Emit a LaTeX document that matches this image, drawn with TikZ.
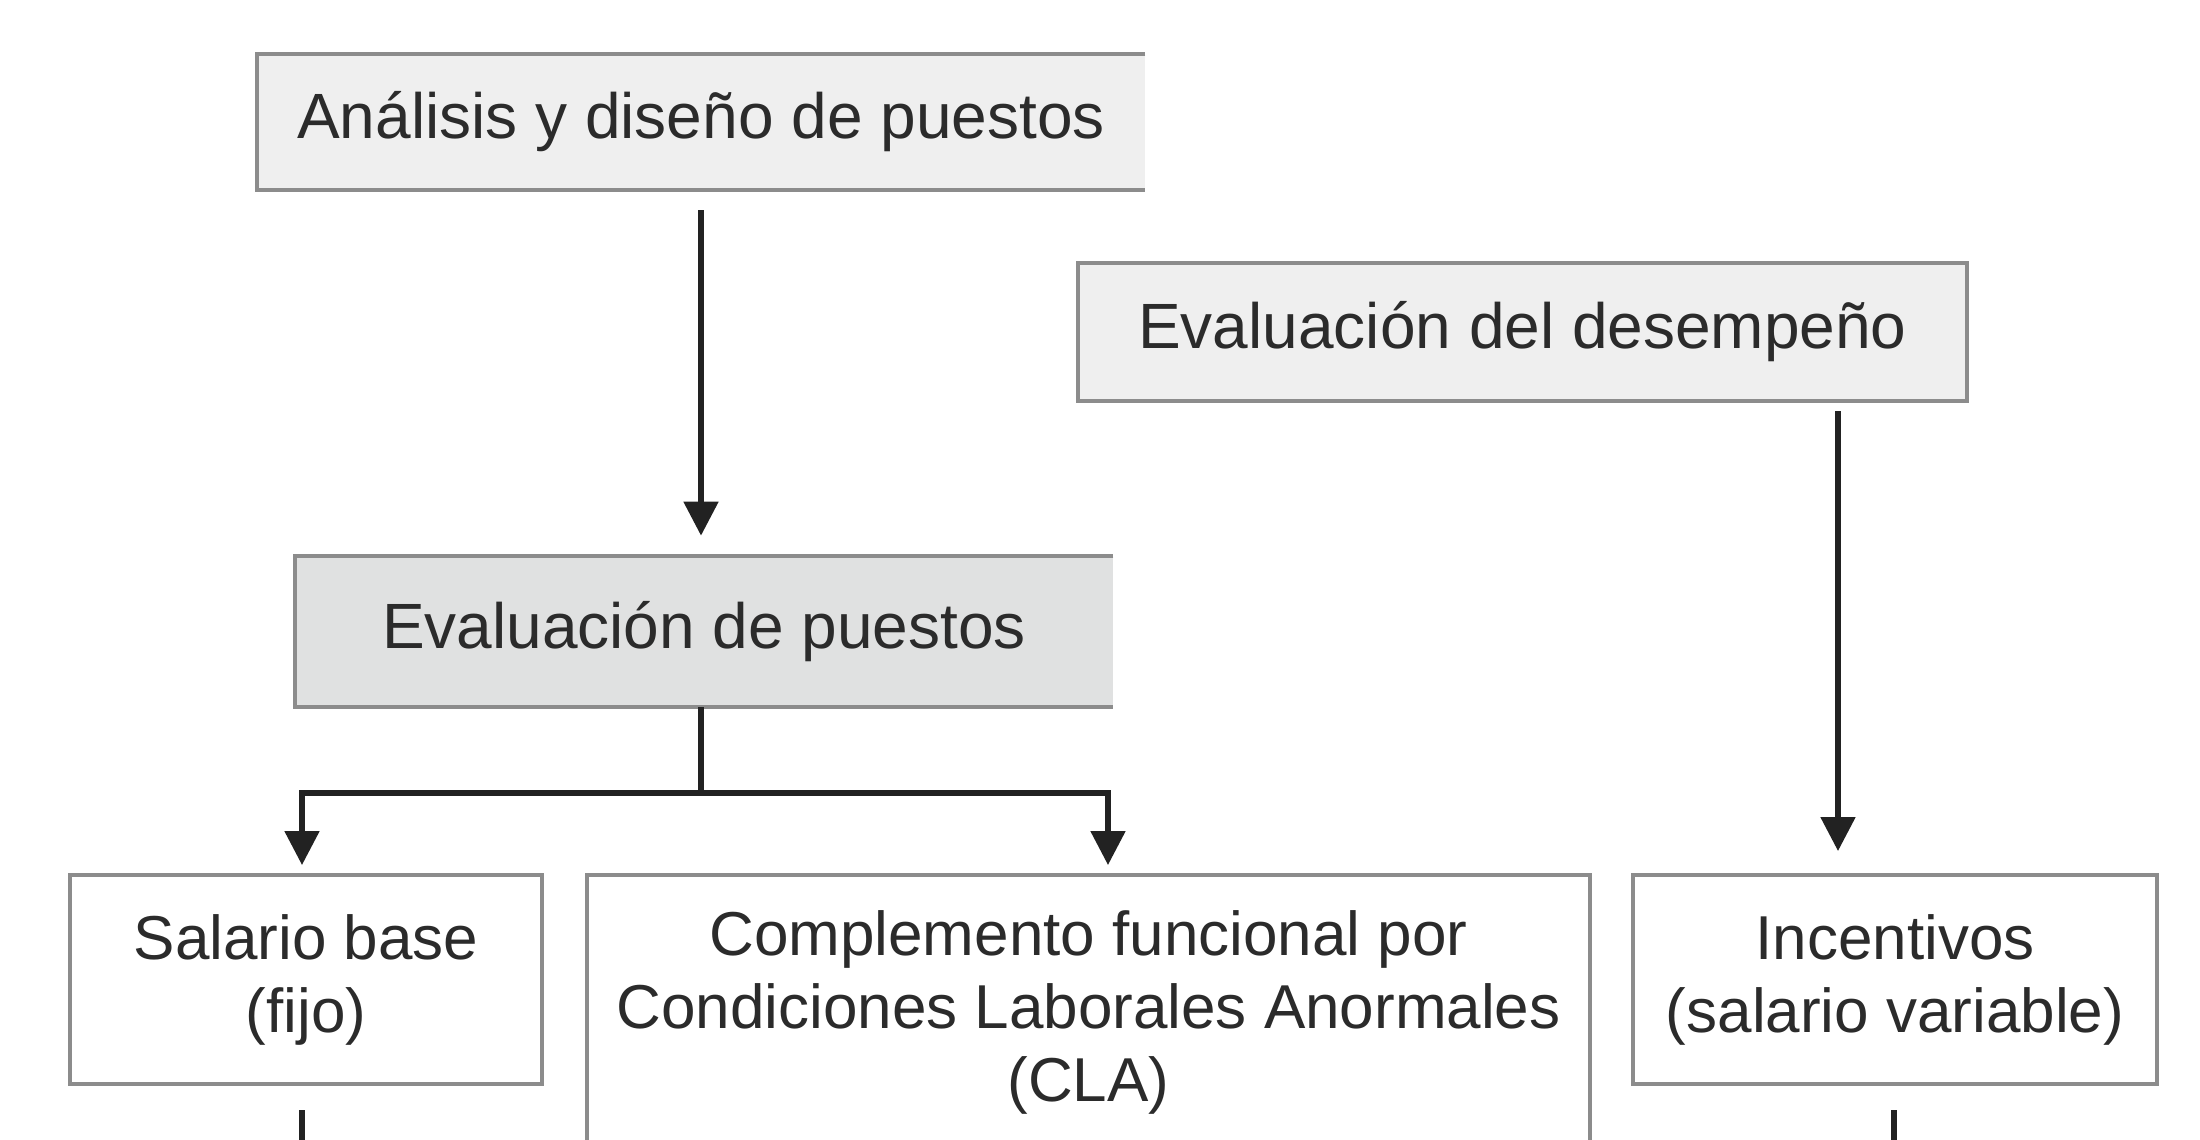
\documentclass[tikz,border=0pt]{standalone}
\usepackage{fontspec}
\setmainfont{Liberation Sans}
\usetikzlibrary{arrows.meta,calc}
\definecolor{boxline}{HTML}{8C8C8C}
\definecolor{lightfill}{HTML}{EFEFEF}
\definecolor{darkfill}{HTML}{E0E1E1}
\definecolor{txt}{HTML}{2B2B2B}
\definecolor{conn}{HTML}{222222}
\tikzset{
  topbox/.style={rectangle, inner sep=0pt, text=txt, font=\fontsize{32}{37}\selectfont},
  lowbox/.style={rectangle, inner sep=0pt, text=txt, align=center, font=\fontsize{31}{36.5}\selectfont},
  frame/.style={draw=boxline, line width=2pt},
  conline/.style={draw=conn, line width=2.6pt},
  arr/.style={conline, -{Triangle[width=17pt,length=17pt]}}
}
\begin{document}
\begin{tikzpicture}[x=0.5pt,y=-0.5pt]
\useasboundingbox[fill=white] (0,0) rectangle (2200,1140);

% top boxes
\node[topbox, fill=lightfill, minimum width=444pt, minimum height=68pt] (b1) at (701,122) {Análisis y diseño de puestos};
\draw[frame] (b1.north east) -- (b1.north west) -- (b1.south west) -- (b1.south east);

\node[topbox, fill=lightfill, frame, minimum width=444.5pt, minimum height=69pt] (b2) at (1522.5,332) {Evaluación del desempeño};

\node[topbox, fill=darkfill, minimum width=409pt, minimum height=75.5pt] (b3) at (704,631.5) {Evaluación de puestos};
\draw[frame] (b3.north east) -- (b3.north west) -- (b3.south west) -- (b3.south east);

% bottom boxes
\node[lowbox, frame, minimum width=236pt, minimum height=104.5pt] (sal) at (306,979.5) {Salario base\\(fijo)};
\node[lowbox] (cla) at (1088.5,1012) {Complemento funcional por\\Condiciones Laborales Anormales\\(CLA)};
\coordinate (claNW) at (587,875);
\coordinate (claNE) at (1590,875);
\draw[frame] (claNW |- 0,1150) -- (claNW) -- (claNE) -- (claNE |- 0,1150);
\node[lowbox, frame, minimum width=262pt, minimum height=104.5pt] (inc) at (1895,979.5) {Incentivos\\(salario variable)};

% connectors
\coordinate (s1) at (701,190);
\draw[arr, shorten <=10pt, shorten >=10pt] (s1) -- (s1 |- b3.north);

\coordinate (s2) at (1838,401);
\draw[arr, shorten <=5pt, shorten >=11pt] (s2) -- (s2 |- inc.north);

\coordinate (j) at (701,793);
\coordinate (tl) at (302,875);
\coordinate (tr) at (1108,875);
\draw[conline] (j |- b3.south) -- (j);
\draw[arr, shorten >=5pt] (j) -| (tl);
\draw[arr, shorten >=5pt] (j) -| (tr);

% stubs below
\coordinate (u1) at (302,1110);
\coordinate (u2) at (1894,1110);
\draw[conline] (u1) -- (u1 |- 0,1150);
\draw[conline] (u2) -- (u2 |- 0,1150);
\end{tikzpicture}
\end{document}
